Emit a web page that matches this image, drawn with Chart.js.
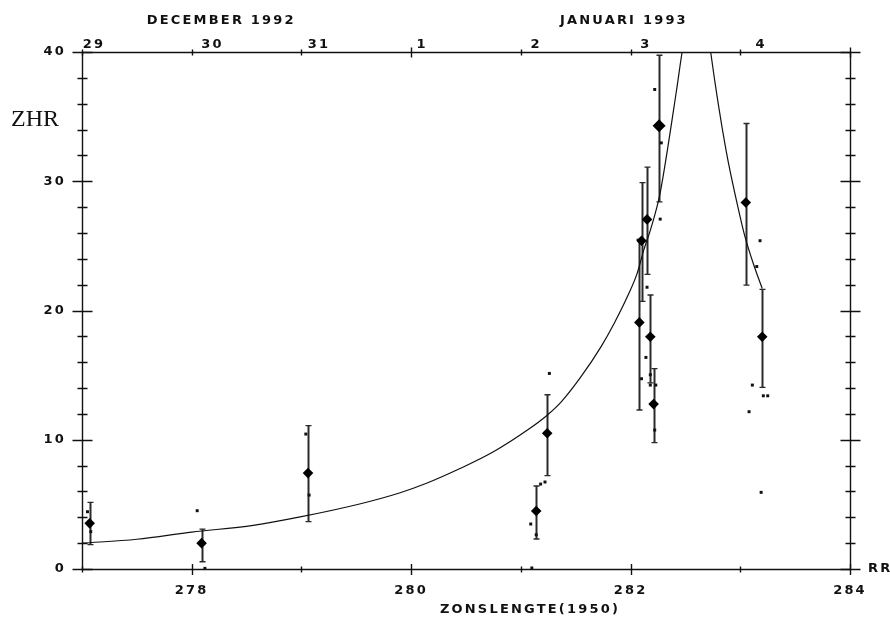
<!DOCTYPE html>
<html><head><meta charset="utf-8">
<script src="https://cdn.jsdelivr.net/npm/chart.js@4.4.1/dist/chart.umd.min.js"></script>
<style>html,body{margin:0;padding:0;background:#fff}#wrap{width:890px;height:619px}</style>
</head><body><div id="wrap"><canvas id="c" width="890" height="619"></canvas></div>
<script>
// model curve
const curveLon = [277.0, 277.5, 278.0, 278.56, 279.0, 279.53, 279.9, 280.14, 280.45, 280.75, 281.06, 281.24, 281.37, 281.55, 281.73, 281.85, 281.97, 282.06, 282.12, 282.18, 282.24, 282.27, 282.42, 282.47, 282.63, 282.73, 282.87, 283.0, 283.04, 283.12, 283.2];
const curveZhr = [2.0, 2.3, 2.85, 3.38, 4.05, 5.03, 5.9, 6.63, 7.79, 9.07, 10.75, 11.9, 12.95, 14.9, 17.19, 19.0, 21.06, 22.87, 24.67, 26.2, 28.0, 29.1, 37.1, 40.0, 47.0, 40.0, 32.4, 27.2, 25.8, 23.6, 21.7];
// mean ZHR points with error bars
const meanLon = [277.07, 278.09, 279.06, 281.14, 281.24, 282.08, 282.10, 282.15, 282.18, 282.21, 282.26, 283.05, 283.2];
const meanZhr = [3.53, 2.0, 7.42, 4.49, 10.5, 19.08, 25.4, 27.05, 17.97, 12.76, 34.3, 28.36, 17.97];
const meanLo  = [1.88, 0.56, 3.66, 2.32, 7.22, 12.3, 20.7, 22.8, 14.4, 9.77, 28.4, 21.96, 14.05];
const meanHi  = [5.16, 3.09, 11.1, 6.42, 13.48, 25.5, 29.9, 31.1, 21.2, 15.5, 39.75, 34.47, 21.63];
// individual observations
const obsLon = [277.05, 277.08, 278.05, 278.12, 279.04, 279.07, 281.26, 281.18, 281.22, 281.09, 281.14, 281.1, 282.22, 282.28, 282.27, 282.15, 282.14, 282.10, 282.18, 282.18, 282.23, 282.22, 283.18, 283.15, 283.11, 283.21, 283.25, 283.08, 283.19];
const obsZhr = [4.43, 2.89, 4.51, 0.05, 10.44, 5.72, 15.13, 6.57, 6.73, 3.48, 2.65, 0.08, 37.1, 32.97, 27.07, 21.8, 16.37, 14.72, 15.03, 14.23, 14.23, 10.75, 25.4, 23.4, 14.23, 13.4, 13.4, 12.17, 5.93];
// tick labels
const xTickVals = [278, 280, 282, 284];
const yTickVals = [0, 10, 20, 30, 40];
const dateLabels = ['29', '30', '31', '1', '2', '3', '4'];
const datePos = [277.11, 278.19, 279.16, 280.10, 281.14, 282.14, 283.19];
const monthLabels = ['DECEMBER 1992', 'JANUARI 1993'];
const monthPos = [278.26, 281.93];
const xTitle = 'ZONSLENGTE(1950)';
const yTitle = 'ZHR';
const xUnit = 'RR';

const INK = '#111';
const FONT = '"DejaVu Sans", sans-serif';
const SPACING = '2.2px';

const frame = {
  id: 'frame',
  beforeDraw(chart) {
    const ctx = chart.ctx;
    ctx.save();
    ctx.fillStyle = '#fff';
    ctx.fillRect(0, 0, chart.width, chart.height);
    ctx.restore();
    ctx.letterSpacing = SPACING;
  },
  beforeDatasetsDraw(chart) {
    const ctx = chart.ctx, xs = chart.scales.x, ys = chart.scales.y;
    ctx.save();
    ctx.strokeStyle = '#2a2a2a';
    for (let i = 0; i < meanLon.length; i++) {
      const px = Math.round(xs.getPixelForValue(meanLon[i])) + 0.5;
      const t = ys.getPixelForValue(meanHi[i]);
      const b = ys.getPixelForValue(meanLo[i]);
      ctx.lineWidth = 2;
      ctx.beginPath(); ctx.moveTo(px, t); ctx.lineTo(px, b); ctx.stroke();
      ctx.lineWidth = 1.3;
      ctx.beginPath();
      ctx.moveTo(px - 3, t); ctx.lineTo(px + 3, t);
      ctx.moveTo(px - 3, b); ctx.lineTo(px + 3, b);
      ctx.stroke();
    }
    ctx.restore();
  },
  afterDraw(chart) {
    const ctx = chart.ctx, xs = chart.scales.x, ys = chart.scales.y;
    const a = chart.chartArea;
    const L = Math.round(a.left) + 0.5, R = Math.round(a.right) + 0.5;
    const T = Math.round(a.top) + 0.5, B = Math.round(a.bottom) + 0.5;
    ctx.save();
    ctx.strokeStyle = INK;
    ctx.lineWidth = 1.4;
    ctx.beginPath();
    ctx.moveTo(L, T); ctx.lineTo(R, T); ctx.lineTo(R, B); ctx.lineTo(L, B); ctx.closePath();
    ctx.stroke();
    ctx.beginPath();
    for (let v = 0; v <= 40; v += 2) {
      const py = Math.round(ys.getPixelForValue(v)) + 0.5;
      const len = v % 10 === 0 ? 10 : 5;
      ctx.moveTo(L - len, py); ctx.lineTo(L + len, py);
      ctx.moveTo(R - len, py); ctx.lineTo(R + len, py);
    }
    for (let v = 277; v <= 284; v++) {
      const px = Math.round(xs.getPixelForValue(v)) + 0.5;
      const lb = v % 2 === 0 ? 5.5 : 3;
      ctx.moveTo(px, B - lb); ctx.lineTo(px, B + lb);
      const lt = (v === 280 || v === 284) ? 5 : 3;
      ctx.moveTo(px, T - lt); ctx.lineTo(px, T + lt);
    }
    ctx.stroke();
    // texts
    ctx.fillStyle = INK;
    ctx.font = 'bold 13px ' + FONT;
    ctx.letterSpacing = SPACING;
    ctx.textBaseline = 'middle';
    ctx.textAlign = 'center';
    for (let i = 0; i < monthLabels.length; i++) {
      ctx.fillText(monthLabels[i], xs.getPixelForValue(monthPos[i]) + 1, 21);
    }
    ctx.fillText(xTitle, 530, 610);
    ctx.textAlign = 'left';
    ctx.fillText(xUnit, a.right + 18, a.bottom);
    ctx.letterSpacing = '0px';
    ctx.font = '24px "Liberation Serif", "DejaVu Serif", serif';
    ctx.textBaseline = 'alphabetic';
    ctx.fillText(yTitle, 11, 126);
    ctx.restore();
  }
};

const tickFont = { family: FONT, weight: 'bold', size: 13 };

new Chart(document.getElementById('c'), {
  type: 'scatter',
  data: {
    datasets: [
      {
        label: 'model',
        data: curveLon.map((x, i) => ({ x, y: curveZhr[i] })),
        showLine: true,
        borderColor: '#111',
        borderWidth: 1.2,
        pointRadius: 0,
        cubicInterpolationMode: 'monotone'
      },
      {
        label: 'obs',
        data: obsLon.map((x, i) => ({ x, y: obsZhr[i] })),
        pointStyle: 'rect',
        pointRadius: 2.1,
        backgroundColor: '#111',
        borderWidth: 0
      },
      {
        label: 'mean',
        data: meanLon.map((x, i) => ({ x, y: meanZhr[i] })),
        pointStyle: 'rectRot',
        pointRadius: meanZhr.map((v, i) => i === 10 ? 6.5 : 5.3),
        backgroundColor: '#000',
        borderColor: '#000',
        borderWidth: 0
      }
    ]
  },
  options: {
    responsive: false,
    animation: false,
    devicePixelRatio: 1,
    layout: { padding: { left: 0, right: 40, top: 0, bottom: 0 } },
    plugins: { legend: { display: false }, tooltip: { enabled: false } },
    scales: {
      x: {
        type: 'linear', position: 'bottom', min: 277, max: 284,
        afterFit(s) { s.height = 50; },
        afterBuildTicks(s) { s.ticks = xTickVals.map(v => ({ value: v })); },
        grid: { display: true, drawOnChartArea: false, drawTicks: false, color: 'rgba(0,0,0,0)' },
        border: { display: false },
        ticks: { autoSkip: false, maxRotation: 0, minRotation: 0, padding: 14, color: INK, font: tickFont,
          callback: v => String(v) }
      },
      xTop: {
        type: 'linear', position: 'top', min: 277, max: 284,
        afterFit(s) { s.height = 52; },
        afterBuildTicks(s) { s.ticks = datePos.map(v => ({ value: v })); },
        grid: { display: true, drawOnChartArea: false, drawTicks: false, color: 'rgba(0,0,0,0)' },
        border: { display: false },
        ticks: { autoSkip: false, maxRotation: 0, minRotation: 0, padding: 0, color: INK, font: tickFont,
          callback: (v, i) => dateLabels[i] }
      },
      y: {
        type: 'linear', position: 'left', min: 0, max: 40,
        afterFit(s) { s.width = 82; },
        afterBuildTicks(s) { s.ticks = yTickVals.map(v => ({ value: v })); },
        grid: { display: true, drawOnChartArea: false, drawTicks: false, color: 'rgba(0,0,0,0)' },
        border: { display: false },
        ticks: { padding: 16, color: INK, font: tickFont, callback: v => String(v) }
      }
    }
  },
  plugins: [frame]
});
</script>
</body></html>
